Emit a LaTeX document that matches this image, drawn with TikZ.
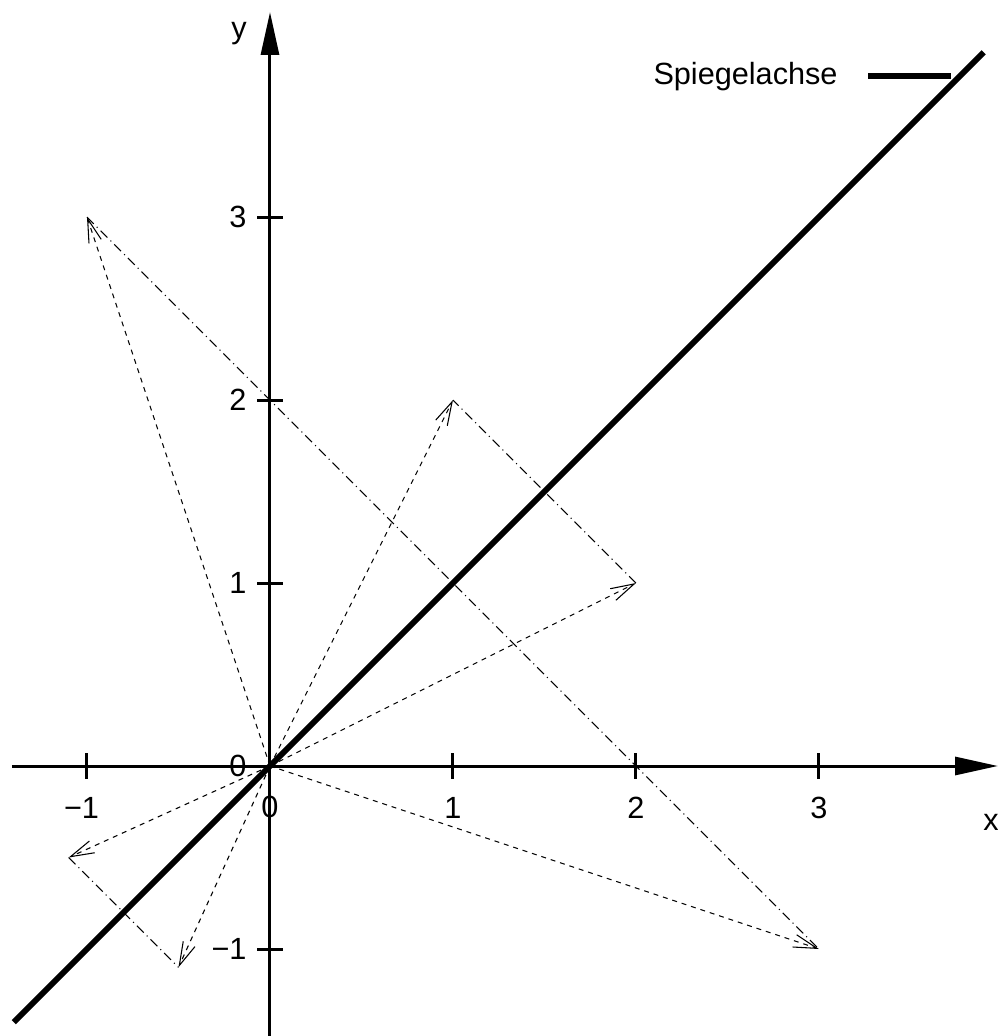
\documentclass[tikz,border=0pt]{standalone}
\usepackage{fontspec}
\setmainfont{Liberation Sans}
\usepackage{tikz}
\usetikzlibrary{arrows.meta}

\begin{document}
\begin{tikzpicture}[x=3cm,y=3cm,
	font=\fontsize{14.3}{17}\selectfont,
	axis/.style={line width=1.4pt,-{Triangle[length=20pt,width=8.4pt]}},
	tick/.style={line width=1.4pt},
	vec/.style={line width=0.5pt,dash pattern=on 2.3pt off 2.3pt,-{Straight Barb[length=11pt,width=6pt,line width=0.5pt]}},
	pair/.style={line width=0.5pt,dash pattern=on 4.5pt off 2pt on 0.5pt off 2pt},
	mirror/.style={line width=2.8pt},
	lbl/.style={inner sep=0pt}]
	\useasboundingbox (-1.4754,-1.4754) rectangle (3.978,4.186);
	% points and their mirror images
	\coordinate (O) at (0,0);
	\coordinate (A) at (2,1);    \coordinate (Am) at (1,2);
	\coordinate (B) at (-1,3);   \coordinate (Bm) at (3,-1);
	\coordinate (C) at (-1.1,-0.5); \coordinate (Cm) at (-0.5,-1.1);
	\coordinate (xl) at (-1.41,0);  \coordinate (xr) at (3.978,0);
	\coordinate (yb) at (0,-1.4754); \coordinate (yt) at (0,4.12);
	\coordinate (sa) at (-1.4,-1.4); \coordinate (se) at (3.9,3.9);
	\coordinate (la) at (3.27,3.77); \coordinate (le) at (3.72,3.77);
	% axes
	\draw[axis] (xl) -- (xr);
	\draw[axis] (yb) -- (yt);
	\foreach \i in {-1,1,2,3} {
		\draw[tick] (\i,-0.07) -- (\i,0.07);
		\draw[tick] (-0.07,\i) -- (0.07,\i);
	}
	\draw
	(-1.03,-0.23) node[lbl] (xm1) {−1}
	(0,-0.224)    node[lbl] (x0)  {0}
	(1,-0.23)     node[lbl] (x1)  {1}
	(2,-0.23)     node[lbl] (x2)  {2}
	(3,-0.23)     node[lbl] (x3)  {3}
	(-0.126,3)    node[lbl,anchor=east] (y3)  {3}
	(-0.126,2)    node[lbl,anchor=east] (y2)  {2}
	(-0.126,1)    node[lbl,anchor=east] (y1)  {1}
	(-0.126,0)    node[lbl,anchor=east] (y0)  {0}
	(-0.126,-1)   node[lbl,anchor=east] (ym1) {−1}
	(-0.169,4.005) node[lbl] (ylab) {y}
	(3.94,-0.306) node[lbl] (xlab) {x}
	;
	% mirror axis with legend
	\draw[mirror] (sa) -- (se);
	\draw[mirror] (la) -- (le);
	\node[lbl,anchor=east] (leg) at (3.104,3.77) {Spiegelachse};
	% vectors
	\foreach \p in {A,Am,B,Bm,C,Cm}
		\draw[vec] (O) -- (\p);
	\draw[pair] (A) -- (Am);
	\draw[pair] (B) -- (Bm);
	\draw[pair] (C) -- (Cm);
\end{tikzpicture}
\end{document}
